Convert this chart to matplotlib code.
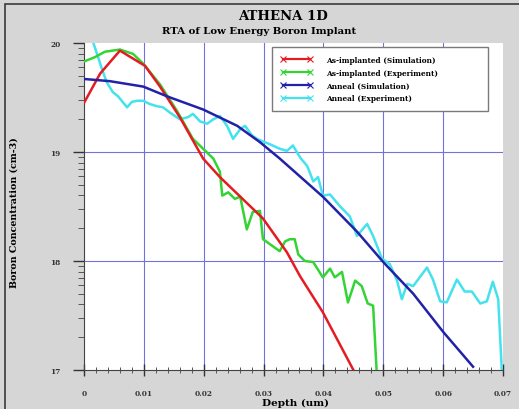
import numpy as np
import matplotlib
matplotlib.use("Agg")
import matplotlib.pyplot as plt
from matplotlib.patches import Rectangle
from matplotlib.lines import Line2D

# ---- data (depth in um, log10 of boron concentration in cm-3) ----
sim_imp_x = [0.0, 0.0027, 0.006, 0.0102, 0.0127, 0.016, 0.0199, 0.0227, 0.0299,
             0.0339, 0.0361, 0.0399, 0.0452]
sim_imp_y = [19.45, 19.72, 19.93, 19.79, 19.60, 19.32, 18.94, 18.77, 18.39,
             18.08, 17.86, 17.53, 16.98]

exp_imp_x = [0.0, 0.0018, 0.0035, 0.0060, 0.0082, 0.0099, 0.0127, 0.0155, 0.0182,
             0.0199, 0.0216, 0.0227, 0.0231, 0.0241, 0.0252, 0.0261, 0.0272, 0.0282,
             0.0294, 0.0299, 0.0327, 0.0336, 0.0344, 0.0352, 0.0358, 0.0369,
             0.0383, 0.0399, 0.0411, 0.0419, 0.0431, 0.0441, 0.0453, 0.0464,
             0.0474, 0.0483, 0.0489]
exp_imp_y = [19.83, 19.87, 19.92, 19.94, 19.90, 19.81, 19.62, 19.38, 19.12,
             19.03, 18.94, 18.82, 18.60, 18.63, 18.57, 18.59, 18.29, 18.45,
             18.46, 18.20, 18.09, 18.18, 18.20, 18.20, 18.06, 18.00,
             17.99, 17.85, 17.93, 17.85, 17.90, 17.62, 17.82, 17.77,
             17.61, 17.59, 16.98]

sim_ann_x = [0.0, 0.0043, 0.0099, 0.0139, 0.0199, 0.0256, 0.0294, 0.0327,
             0.0399, 0.0456, 0.0500, 0.0550, 0.0600, 0.0650]
sim_ann_y = [19.67, 19.65, 19.60, 19.51, 19.39, 19.24, 19.09, 18.94,
             18.59, 18.27, 17.99, 17.70, 17.35, 17.03]

exp_ann_x = [0.0010, 0.0015, 0.0023, 0.0030, 0.0038, 0.0048, 0.0057, 0.0072,
             0.0080, 0.0089, 0.0099, 0.0110, 0.0122, 0.0132, 0.0144, 0.0160,
             0.0174, 0.0182, 0.0194, 0.0206, 0.0216, 0.0227, 0.0239, 0.0249,
             0.0261, 0.0269, 0.0281, 0.0289, 0.0311, 0.0327, 0.0339, 0.0349,
             0.0361, 0.0373, 0.0383, 0.0391, 0.0399, 0.0411, 0.0428, 0.0444,
             0.0456, 0.0473, 0.0483, 0.0498, 0.0511, 0.0523, 0.0531, 0.0540,
             0.0550, 0.0573, 0.0583, 0.0595, 0.0606, 0.0623, 0.0636, 0.0648,
             0.0662, 0.0673, 0.0683, 0.0692, 0.0698]
exp_ann_y = [20.07, 20.01, 19.88, 19.76, 19.64, 19.55, 19.51, 19.41,
             19.46, 19.47, 19.47, 19.44, 19.42, 19.41, 19.36, 19.30,
             19.32, 19.35, 19.28, 19.26, 19.30, 19.33, 19.24, 19.12,
             19.21, 19.24, 19.15, 19.12, 19.07, 19.03, 19.01, 19.06,
             18.95, 18.87, 18.73, 18.77, 18.60, 18.61, 18.50, 18.41,
             18.23, 18.34, 18.23, 18.02, 17.97, 17.82, 17.65, 17.79,
             17.77, 17.94, 17.83, 17.63, 17.62, 17.83, 17.72, 17.72,
             17.61, 17.63, 17.81, 17.65, 17.00]

series_labels = ["As-implanted (Simulation)", "As-implanted (Experiment)",
                 "Anneal (Simulation)", "Anneal (Experiment)"]
series_colors = ["#e41c22", "#34d434", "#2222a8", "#44e2ee"]

y_tick_vals = [17, 18, 19, 20]
y_tick_labels = ["17", "18", "19", "20"]
x_tick_vals = [0.0, 0.01, 0.02, 0.03, 0.04, 0.05, 0.06, 0.07]
x_tick_labels = ["0", "0.01", "0.02", "0.03", "0.04", "0.05", "0.06", "0.07"]

serif = ["DejaVu Serif"]

fig = plt.figure(figsize=(5.19, 4.10), dpi=100)
fig.patch.set_facecolor("#d6d6d6")
W, H = 519.0, 410.0

# outer dark frame (top/left edges visible)
fig.patches.append(Rectangle((5 / W, -0.1), 1.2, (H - 5) / H + 0.1,
                             transform=fig.transFigure, fill=False,
                             edgecolor="#3a3a3a", linewidth=1.2))

ax = fig.add_axes([84 / W, 1 - 371 / H, (503 - 84) / W, (371 - 44) / H])
ax.set_facecolor("white")
ax.set_xlim(0, 0.07)
ax.set_ylim(17, 20)

grid_c = "#7272dc"
for xv in x_tick_vals[1:-1]:
    ax.axvline(xv, color=grid_c, lw=0.8, zorder=1)
for yv in y_tick_vals[1:-1]:
    ax.axhline(yv, color=grid_c, lw=0.8, zorder=1)

ax.plot(exp_ann_x, exp_ann_y, color=series_colors[3], lw=1.8, zorder=2)
ax.plot(exp_imp_x, exp_imp_y, color=series_colors[1], lw=1.8, zorder=3)
ax.plot(sim_imp_x, sim_imp_y, color=series_colors[0], lw=1.8, zorder=4)
ax.plot(sim_ann_x, sim_ann_y, color=series_colors[2], lw=1.8, zorder=4)

ax.set_xticks(x_tick_vals)
ax.set_xticklabels(x_tick_labels, fontfamily=serif, fontweight="bold", fontsize=5.3)
ax.set_yticks(y_tick_vals)
ax.set_yticklabels(y_tick_labels, fontfamily=serif, fontweight="bold", fontsize=5.3)
ax.set_xticks(np.arange(0, 0.0701, 0.002), minor=True)
minor_y = [d + np.log10(k) for d in (17, 18, 19) for k in range(2, 10)]
ax.set_yticks(minor_y, minor=True)
ax.tick_params(axis="y", which="major", direction="out", length=8, width=1.0,
               colors="#333333", pad=9)
ax.tick_params(axis="x", which="major", direction="inout", length=8, width=1.0,
               colors="#333333", pad=10)
ax.tick_params(axis="y", which="minor", direction="out", length=4.5, width=0.7,
               colors="#555555")
ax.tick_params(axis="x", which="minor", direction="inout", length=4, width=0.7,
               colors="#555555")

for s in ["top", "right"]:
    ax.spines[s].set_visible(False)
ax.spines["left"].set_color("#444444")
ax.spines["bottom"].set_color("#444444")

fig.text(283 / W, 1 - 16 / H, "ATHENA 1D", ha="center", va="center",
         fontfamily=serif, fontweight="bold", fontsize=9.5)
fig.text(259 / W, 1 - 32 / H, "RTA of Low Energy Boron Implant", ha="center",
         va="center", fontfamily=serif, fontweight="bold", fontsize=7.3)
fig.text(14 / W, 1 - 213 / H, "Boron Concentration (cm-3)", rotation=90,
         ha="center", va="center", fontfamily=serif, fontweight="bold", fontsize=6.8)
fig.text(295 / W, 1 - 403 / H, "Depth (um)", ha="center", va="center",
         fontfamily=serif, fontweight="bold", fontsize=7.5)

handles = [Line2D([], [], color=c, lw=1.6, marker="x", markersize=4,
                  markeredgewidth=0.8) for c in series_colors]
leg_top = 1 - (48 - 44) / 327
leg_h = (112 - 48) / 327
leg = ax.legend(handles, series_labels, loc="upper left",
                bbox_to_anchor=((272 - 84) / 419, leg_top - leg_h, (488 - 272) / 419, leg_h),
                mode="expand", numpoints=2,
                prop={"family": serif, "weight": "bold", "size": 5.3},
                frameon=True, fancybox=False, edgecolor="#7a7a7a", framealpha=1,
                handlelength=4.3, handletextpad=1.8, borderpad=1.2,
                labelspacing=0.65, borderaxespad=0)
leg.get_frame().set_linewidth(1.0)

fig.savefig("out.png", dpi=100, facecolor=fig.get_facecolor())
